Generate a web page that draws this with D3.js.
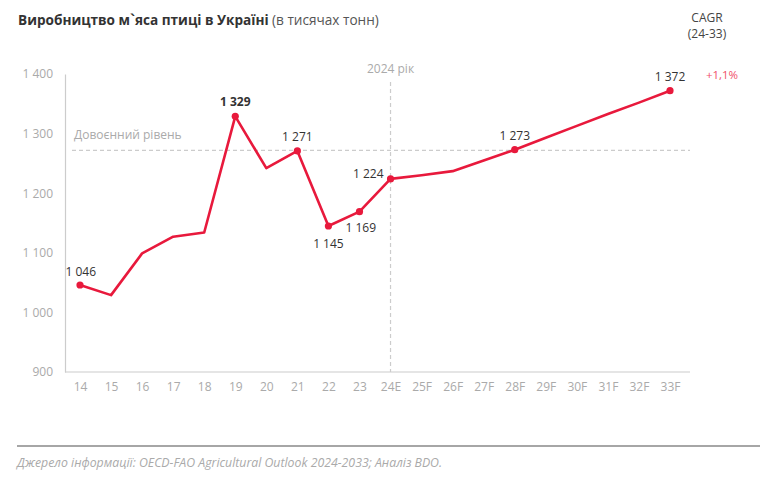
<!DOCTYPE html>
<html><head><meta charset="utf-8">
<script src="https://cdn.jsdelivr.net/npm/d3@7"></script>
<style>body{margin:0;background:#fff;} svg{display:block;font-family:"Open Sans",sans-serif;}</style>
</head><body>
<svg id="c" width="760" height="478"></svg>
<script>
const categories = ["14","15","16","17","18","19","20","21","22","23","24E","25F","26F","27F","28F","29F","30F","31F","32F","33F"];
const values = [1046,1029,1099,1127,1134,1329,1242,1271,1145,1169,1224,1230,1237,1255,1273,1293,1313,1333,1352,1372];
const yTicks = [900,1000,1100,1200,1300,1400];
const prewarLevel = 1272;
const labeled = {"14":"left","19":"top","21":"top","22":"bottom","23":"bottomright","24E":"left","28F":"top","33F":"top"};

const svg = d3.select("#c");
const fmt = v => d3.format(",")(v).replace(/,/g, " ");
const x = d3.scalePoint().domain(categories).range([80, 670]);
const y = d3.scaleLinear().domain([900, 1400]).range([372, 74]);
const red = "#e8193c";

// title
const t = svg.append("text").attr("x", 18).attr("y", 25).attr("font-size", 13.6).attr("fill", "#333");
t.append("tspan").attr("font-weight", "bold").text("Виробництво м`яса птиці в Україні");
t.append("tspan").attr("fill", "#555").text(" (в тисячах тонн)");
svg.append("text").attr("x", 707).attr("y", 22).attr("text-anchor","middle").attr("font-size",12).attr("fill","#444").text("CAGR");
svg.append("text").attr("x", 707).attr("y", 38).attr("text-anchor","middle").attr("font-size",12).attr("fill","#444").text("(24-33)");
svg.append("text").attr("x", 722).attr("y", 79).attr("text-anchor","middle").attr("font-size",11.5).attr("fill","#f0506a").text("+1,1%");

// y axis
const ya = svg.append("g").attr("transform","translate(65,0)").call(d3.axisLeft(y).tickValues(yTicks).tickSize(0).tickPadding(12).tickFormat(fmt));
ya.select(".domain").attr("stroke","#ccc").attr("stroke-width",1.2);
ya.selectAll("text").attr("fill","#aaa").attr("font-size",12).attr("font-family","Open Sans");
// x axis
const xa = svg.append("g").attr("transform","translate(0,372)").call(d3.axisBottom(x).tickSize(0).tickPadding(10));
xa.select(".domain").attr("stroke","#ccc").attr("stroke-width",1.2).attr("d","M65,0H690");
xa.selectAll("text").attr("fill","#aaa").attr("font-size",12).attr("font-family","Open Sans");

// prewar line
svg.append("line").attr("x1",72).attr("x2",690).attr("y1",y(prewarLevel)).attr("y2",y(prewarLevel))
  .attr("stroke","#ccc").attr("stroke-dasharray","4,3").attr("stroke-width",1.2);
svg.append("text").attr("x",74).attr("y",y(prewarLevel)-11).attr("font-size",12).attr("fill","#aaa").text("Довоєнний рівень");
// 2024 line
svg.append("line").attr("x1",x("24E")).attr("x2",x("24E")).attr("y1",82).attr("y2",372)
  .attr("stroke","#ccc").attr("stroke-dasharray","4,3").attr("stroke-width",1.2);
svg.append("text").attr("x",x("24E")).attr("y",73).attr("text-anchor","middle").attr("font-size",12).attr("fill","#aaa").text("2024 рік");

// line
const data = categories.map((c,i)=>({c, v: values[i]}));
svg.append("path").datum(data).attr("fill","none").attr("stroke",red).attr("stroke-width",2.6).attr("stroke-linejoin","round")
  .attr("d", d3.line().x(d=>x(d.c)).y(d=>y(d.v)));
const lab = data.filter(d=>labeled[d.c]);
svg.selectAll("circle.m").data(lab).enter().append("circle").attr("cx",d=>x(d.c)).attr("cy",d=>y(d.v)).attr("r",3.6).attr("fill",red);
svg.selectAll("text.l").data(lab).enter().append("text")
  .attr("font-size",12).attr("fill","#333")
  .attr("font-weight", d=>d.c==="19"?"bold":"normal")
  .attr("text-anchor", d=>({left:"end",top:"middle",bottom:"middle",bottomright:"start"})[labeled[d.c]])
  .attr("x", d=>{const p=labeled[d.c]; const cx=x(d.c); if(d.c==="14") return cx+16; if(p==="left") return cx-7; if(p==="bottomright") return cx-14; return cx;})
  .attr("y", d=>{const p=labeled[d.c]; const cy=y(d.v); if(d.c==="14") return cy-9; if(p==="top") return cy-10; if(p==="bottom") return cy+22; if(p==="bottomright") return cy+20; return cy-1;})
  .text(d=>fmt(d.v));

// footer
svg.append("line").attr("x1",17).attr("x2",760).attr("y1",446).attr("y2",446).attr("stroke","#888").attr("stroke-width",1.5);
svg.append("text").attr("x",17).attr("y",467).attr("font-size",12.3).attr("font-style","italic").attr("fill","#aaa")
  .text("Джерело інформації: OECD-FAO Agricultural Outlook 2024-2033; Аналіз BDO.");
</script>
</body></html>
